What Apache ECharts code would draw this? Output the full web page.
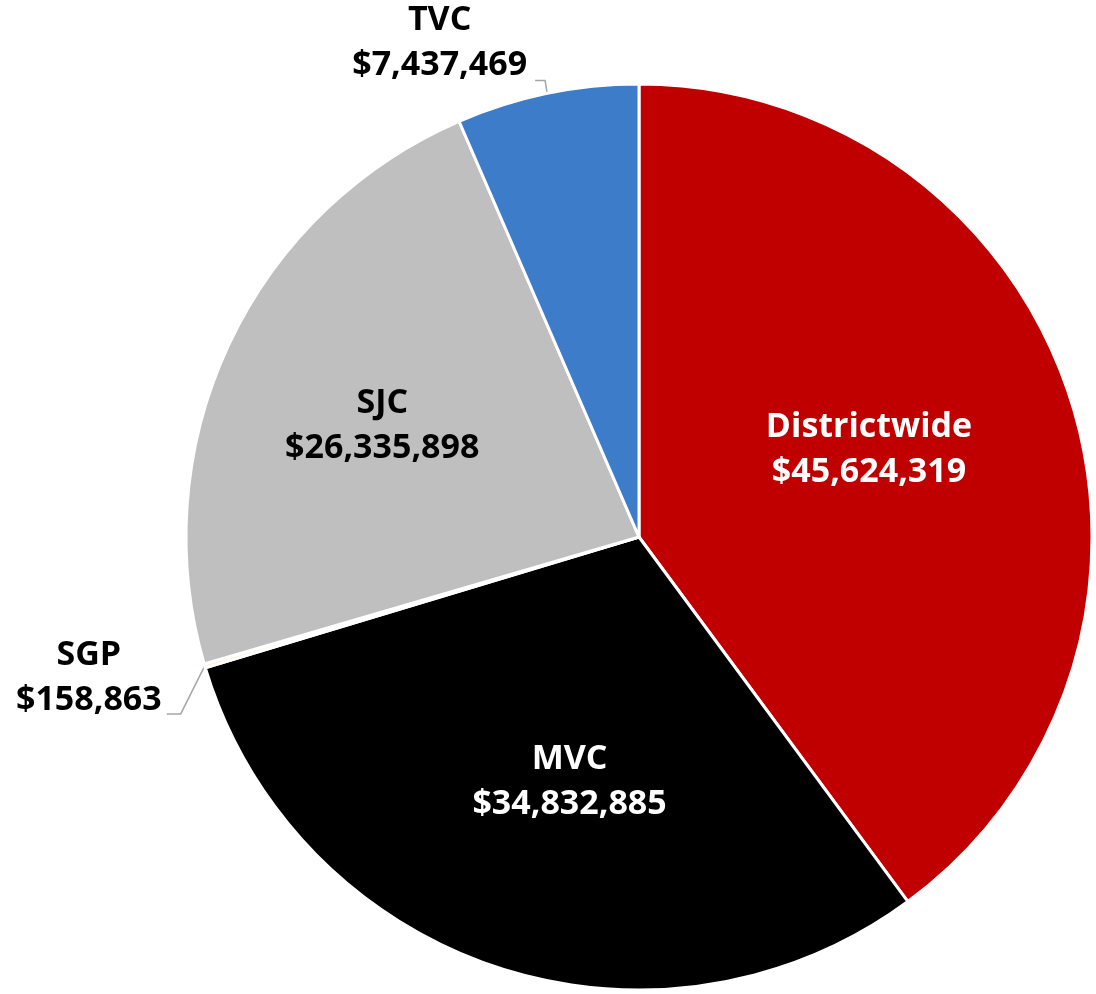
<!DOCTYPE html>
<html>
<head>
<meta charset="utf-8">
<script src="https://cdn.jsdelivr.net/npm/echarts@6/dist/echarts.min.js"></script>
<style>
html, body { margin: 0; padding: 0; background: #fff; }
#main { width: 1096px; height: 994px; }
</style>
</head>
<body>
<div id="main"></div>
<script>
// data, clockwise from 12 o'clock
var names = ['Districtwide', 'MVC', 'SGP', 'SJC', 'TVC'];
var amounts = [45624319, 34832885, 158863, 26335898, 7437469];

var sliceColors = ['#C00000', '#000000', '#FFF2CC', '#BFBFBF', '#3D7CC9'];
var labelColors = ['#FFFFFF', '#FFFFFF', '#000000', '#000000', '#000000'];
var outsideNames = ['SGP', 'TVC'];
// nudges for the inside labels (px)
var nudge = { Districtwide: [12, -15], MVC: [3, 27], SJC: [-49, -14] };

function money(v) {
    return '$' + String(v).replace(/\B(?=(\d{3})+(?!\d))/g, ',');
}

var myChart = echarts.init(document.getElementById('main'));

var pieData = names.map(function (n, i) {
    var out = outsideNames.indexOf(n) >= 0;
    return {
        name: n,
        value: amounts[i],
        itemStyle: { color: sliceColors[i] },
        label: { position: out ? 'outside' : 'inside', color: labelColors[i] },
        labelLine: { show: out }
    };
});

var option = {
    animation: false,
    series: [{
        type: 'pie',
        center: [639, 537],
        radius: 453,
        startAngle: 90,
        clockwise: true,
        avoidLabelOverlap: false,
        itemStyle: { borderColor: '#FFFFFF', borderWidth: 3 },
        emphasis: { disabled: true },
        label: {
            show: true,
            fontFamily: 'Open Sans',
            fontWeight: 'bold',
            fontSize: 34,
            lineHeight: 45,
            formatter: function (p) {
                return p.name + '\n' + money(p.value);
            }
        },
        labelLine: {
            length: 12,
            length2: 10,
            lineStyle: { color: '#A6A6A6', width: 1.5 }
        },
        labelLayout: function (p) {
            var n = names[p.dataIndex];
            var pts = p.labelLinePoints;
            var w = p.labelRect.width;
            if (n === 'TVC' && pts) {
                var a = pts[0];
                var b = [a[0] - 2, a[1] - 13];
                var c = [a[0] - 12, a[1] - 13];
                return {
                    x: c[0] - 8 - w / 2, y: c[1] + 7,
                    align: 'center', verticalAlign: 'bottom',
                    labelLinePoints: [a, b, c]
                };
            }
            if (n === 'SGP' && pts) {
                var a2 = pts[0];
                var b2 = [a2[0] - 24, a2[1] + 48];
                var c2 = [a2[0] - 38, a2[1] + 48];
                return {
                    x: c2[0] - 5 - w / 2, y: c2[1] + 9,
                    align: 'center', verticalAlign: 'bottom',
                    labelLinePoints: [a2, b2, c2]
                };
            }
            var d = nudge[n] || [0, 0];
            return { dx: d[0], dy: d[1] };
        },
        data: pieData
    }]
};

myChart.setOption(option);
</script>
</body>
</html>
